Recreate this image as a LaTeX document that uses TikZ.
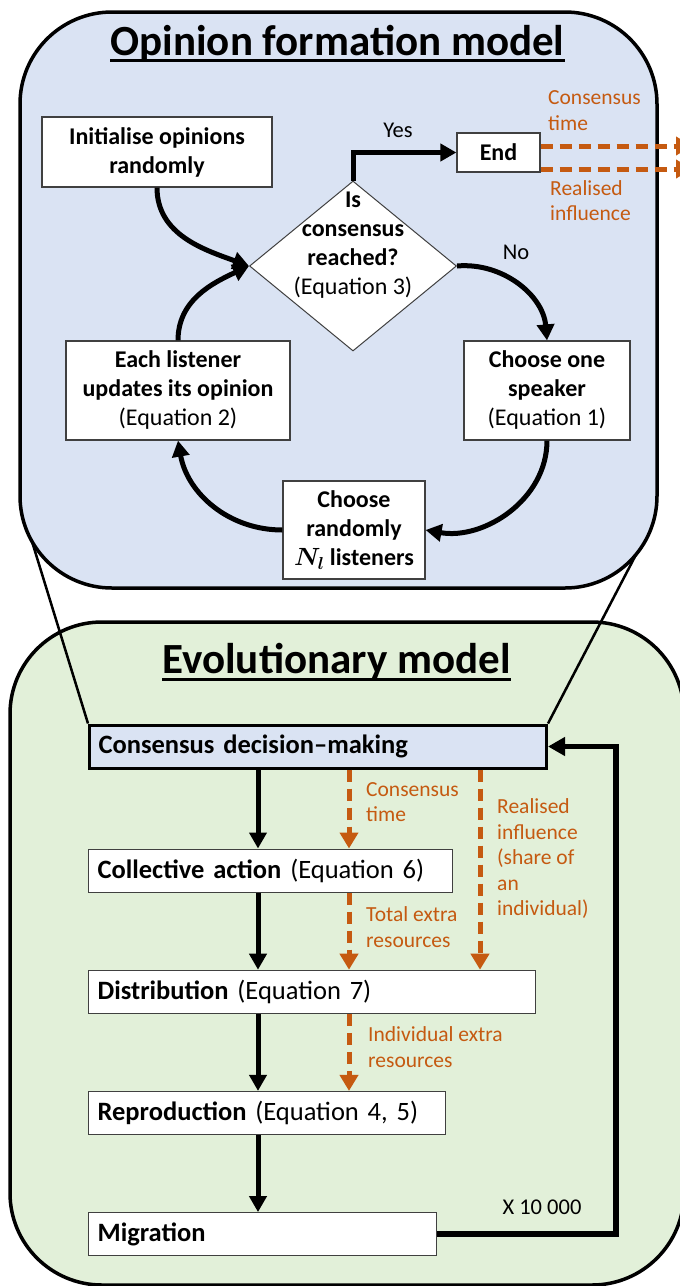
\documentclass[tikz,border=0pt]{standalone}
\usepackage{amsmath}
\usepackage{fontspec}
\setmainfont{Carlito}
\usetikzlibrary{positioning,arrows.meta,shapes.geometric}
\definecolor{opfill}{HTML}{DAE3F3}
\definecolor{evfill}{HTML}{E2F0D9}
\definecolor{resorange}{HTML}{C55A11}
\pgfdeclarelayer{bg}
\pgfsetlayers{bg,main}

\tikzset{
    panel/.style={draw, line width=3.5pt, rounded corners=92pt},
    heading/.style={inner sep=0pt, anchor=base, font=\fontsize{43}{50}\selectfont\bfseries},
    box/.style={draw=black!75, line width=1.2pt, fill=white, align=center, inner sep=0pt,
        font=\fontsize{24}{29}\selectfont\bfseries},
    stage/.style={draw=black!75, line width=1.2pt, fill=white, align=left, minimum height=43pt,
        inner xsep=9pt, inner ysep=0pt, font=\fontsize{26.5}{31}\selectfont},
    flow/.style={line width=5pt, -{Triangle[length=16pt,width=17pt]}},
    feed/.style={draw=resorange, line width=5pt, dash pattern=on 12pt off 7pt,
        -{Triangle[length=16pt,width=18pt]}},
    feedtext/.style={text=resorange, anchor=west, align=left, inner sep=0pt,
        font=\fontsize{21.5}{25.5}\selectfont},
    answer/.style={inner sep=0pt, font=\fontsize{22.5}{26}\selectfont},
}

\begin{document}
\begin{tikzpicture}[x=1pt,y=-1pt]
    \useasboundingbox (0,0) rectangle (680,1286);

    % Opinion formation model
    \node[heading] (optitle) at (337.5,55) {Opinion formation model};
    \draw[line width=3pt] ([yshift=-5pt]optitle.base west) -- ([yshift=-5pt]optitle.base east);

    \node[box, minimum width=230pt, minimum height=70pt] (init) at (157,152) {Initialise opinions\\randomly};
    \node[draw=black!75, line width=1pt, fill=white, diamond, minimum width=207pt, minimum height=170pt,
        inner sep=0pt] (cons) at (353,266) {};
    \node[box, draw=none, fill=none] (constext) at (353,245) {Is\\consensus\\reached?\\\mdseries(Equation 3)};
    \node[box, minimum width=83pt, minimum height=39pt] (endn) at (498.5,152.5) {End};
    \node[box, minimum width=166pt, minimum height=99pt] (speaker) at (547,390.5) {Choose one\\speaker\\\mdseries(Equation 1)};
    \node[box, minimum width=224pt, minimum height=99pt] (update) at (178,390.5) {Each listener\\updates its opinion\\\mdseries(Equation 2)};
    \node[box, minimum width=142pt, minimum height=98pt] (listen) at (354,530) {Choose\\randomly\\$\boldsymbol{N_l}$ listeners};

    \draw[flow] (init.south) to[out=-90,in=160] (cons.west);
    \draw[flow] (update.north) to[out=90,in=205] (cons.west);
    \draw[flow] (cons.east) to[out=5,in=95] (speaker.north);
    \draw[flow] (speaker.south) to[out=-90,in=-10] (listen.east);
    \draw[flow] (listen.west) to[out=180,in=-80] (update.south);
    \draw[flow] (cons.north) |- (endn.west);
    \node[answer] (yes) at (398,130) {Yes};
    \node[answer] (no) at (516,252) {No};

    % outputs to the evolutionary model
    \coordinate (ctout) at (692,146);
    \coordinate (riout) at (692,169);
    \draw[feed] (endn.east |- ctout) -- (ctout);
    \draw[feed] (endn.east |- riout) -- (riout);
    \node[feedtext] (cttext) at (548,110.5) {Consensus\\time};
    \node[feedtext] (ritext) at (550,200.5) {Realised\\influence};

    % Evolutionary model
    \node[heading] (evtitle) at (336.5,673) {Evolutionary model};
    \draw[line width=3pt] ([yshift=-6pt]evtitle.base west) -- ([yshift=-6pt]evtitle.base east);

    \node[stage, anchor=west, fill=opfill, draw=black, line width=3pt, text width=439pt] (cdm) at (88,746.5)
        {\textbf{Consensus decision--making}};
    \node[stage, below=79pt of cdm.south west, anchor=north west, text width=346pt] (act)
        {\textbf{Collective action} (Equation 6)};
    \node[stage, below=77pt of act.south west, anchor=north west, text width=429pt] (dist)
        {\textbf{Distribution} (Equation 7)};
    \node[stage, below=77pt of dist.south west, anchor=north west, text width=339pt] (repro)
        {\textbf{Reproduction} (Equation 4, 5)};
    \node[stage, below=77pt of repro.south west, anchor=north west, text width=330pt] (migr)
        {\textbf{Migration}};

    \coordinate (spine) at (258,0);
    \draw[flow, line width=5pt] (cdm.south -| spine) -- (act.north -| spine);
    \draw[flow, line width=5pt] (act.south -| spine) -- (dist.north -| spine);
    \draw[flow, line width=5pt] (dist.south -| spine) -- (repro.north -| spine);
    \draw[flow, line width=5pt] (repro.south -| spine) -- (migr.north -| spine);

    \coordinate (ocol) at (349,0);
    \coordinate (rcol) at (480,0);
    \draw[feed] (cdm.south -| ocol) -- (act.north -| ocol);
    \draw[feed] (act.south -| ocol) -- (dist.north -| ocol);
    \draw[feed] (cdm.south -| rcol) -- (dist.north -| rcol);
    \draw[feed] (dist.south -| ocol) -- (repro.north -| ocol);
    \node[feedtext] (cttime) at (366,802) {Consensus\\time};
    \node[feedtext] (riinfl) at (497,859) {Realised\\influence\\(share of\\an\\individual)};
    \node[feedtext] (totres) at (366,927) {Total extra\\resources};
    \node[feedtext] (indres) at (368,1047) {Individual extra\\resources};

    % generations
    \draw[flow, line width=5.5pt, -{Triangle[length=17pt,width=18pt]}] (migr.east) -| ([xshift=68pt]cdm.east) -- (cdm.east);
    \node[answer] (gens) at (542,1207) {X 10 000};

    \begin{pgfonlayer}{bg}
        \draw[panel, fill=evfill] (10,622) rectangle (684,1285);
        \coordinate (zoomL) at (26,522);
        \coordinate (zoomR) at (653,522);
        \draw[line width=2.5pt] (zoomL) -- (cdm.north west);
        \draw[line width=2.5pt] (zoomR) -- (cdm.north east);
        \draw[panel, fill=opfill] (20,12) rectangle (657,588);
    \end{pgfonlayer}
\end{tikzpicture}
\end{document}
